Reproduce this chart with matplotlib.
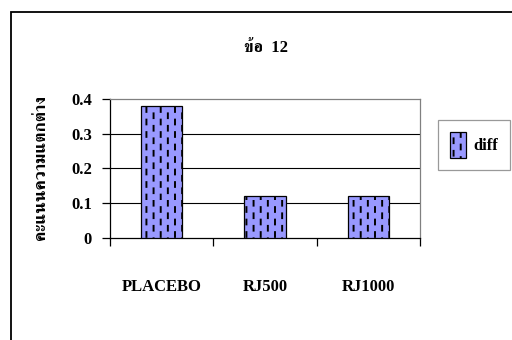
import warnings
import numpy as np
import matplotlib
matplotlib.use("Agg")
import matplotlib.pyplot as plt
from matplotlib import hatch as mhatch
from matplotlib.path import Path
from matplotlib.patches import Rectangle
from matplotlib.legend_handler import HandlerPatch

warnings.filterwarnings("ignore")

# data
categories = ["PLACEBO", "RJ500", "RJ1000"]
diff_values = [0.38, 0.12, 0.12]
series_name = "diff"
title_text = "ข้อ  12"
ylabel_text = "คะแนนความแตกต่าง"
yticks = [0, 0.1, 0.2, 0.3, 0.4]
ytick_labels = ["0", "0.1", "0.2", "0.3", "0.4"]


class DashedVerticalHatch(mhatch.HatchPatternBase):
    """Staggered short vertical dashes, triggered by '!' in the hatch string."""

    def __init__(self, hatch, density):
        n = hatch.count("!")
        self.cols = 14 * n
        self.rows = 8
        self.num_lines = self.cols * self.rows
        self.num_vertices = self.num_lines * 2

    def set_vertices_and_codes(self, vertices, codes):
        i = 0
        for c in range(self.cols):
            x = (c + 0.5) / self.cols
            off = 0.5 if c % 2 else 0.0
            for r in range(self.rows):
                y0 = (r + off + 0.05) / self.rows
                y1 = y0 + 0.38 / self.rows
                vertices[i] = (x, y0)
                vertices[i + 1] = (x, y1)
                codes[i] = Path.MOVETO
                codes[i + 1] = Path.LINETO
                i += 2


mhatch._hatch_types.append(DashedVerticalHatch)

plt.rcParams["font.family"] = ["Liberation Serif", "FreeSerif"]
plt.rcParams["font.weight"] = "bold"
plt.rcParams["hatch.linewidth"] = 1.4
plt.rcParams["hatch.color"] = "#000020"

W, H = 512, 340
fig = plt.figure(figsize=(W / 100, H / 100), dpi=100)
fig.patch.set_facecolor("white")

# outer chart frame (extends past right and bottom edges)
fig.add_artist(Rectangle((10.5 / W, -0.2), 1.5, 1 - 12 / H + 0.2,
                         transform=fig.transFigure, fill=False,
                         ec="black", lw=1.3))

ax = fig.add_axes([110 / W, 1 - 237.5 / H, 310 / W, 138.5 / H])
x = np.arange(len(categories)) + 0.5
bars = ax.bar(x, diff_values, width=0.4, color="#9999ff", edgecolor="black",
              linewidth=0.9, hatch="!", label=series_name, zorder=3)

ax.set_xlim(0, len(categories))
ax.set_ylim(0, 0.4)

for y in yticks[1:-1]:
    ax.axhline(y, color="black", lw=0.8, zorder=1)

ax.spines["top"].set_color("#808080")
ax.spines["right"].set_color("#808080")
ax.spines["left"].set_color("black")
ax.spines["bottom"].set_color("black")
for s in ax.spines.values():
    s.set_linewidth(0.9)

ax.set_yticks(yticks)
ax.set_yticklabels(ytick_labels, fontsize=12, fontweight="bold")
ax.tick_params(axis="y", direction="out", length=6, width=0.9, pad=7)

ax.set_xticks(np.arange(len(categories) + 1))
ax.set_xticklabels([])
ax.tick_params(axis="x", which="major", direction="out", length=6, width=0.9)
ax.set_xticks(x, minor=True)
ax.set_xticklabels(categories, minor=True, fontsize=12, fontweight="bold")
ax.tick_params(axis="x", which="minor", length=0, pad=30)

fig.text(266 / W, 1 - 48 / H, title_text, ha="center", va="center",
         fontsize=12, fontweight="bold")
fig.text(41 / W, 1 - 168 / H, ylabel_text, ha="center", va="center",
         rotation=90, fontsize=12.5)


def small_patch(legend, orig_handle, xdescent, ydescent, width, height, fontsize):
    pw, ph = 10.8, 11.5
    cx = width / 2 - xdescent
    cy = height / 2 - ydescent
    return Rectangle((cx - pw / 2, cy - ph / 2), pw, ph)


leg = fig.legend(handles=[bars], labels=[series_name],
                 loc="center", bbox_to_anchor=(474 / W, 1 - 145 / H),
                 fontsize=12, frameon=True, fancybox=False, shadow=False,
                 borderpad=0.7, handlelength=0.95, handleheight=2.0,
                 handletextpad=0.45, borderaxespad=0,
                 handler_map={type(bars.patches[0]): HandlerPatch(patch_func=small_patch)})
leg.get_frame().set_edgecolor("#808080")
leg.get_frame().set_linewidth(0.9)
for t in leg.get_texts():
    t.set_fontweight("bold")

fig.savefig("out.png", dpi=100)
